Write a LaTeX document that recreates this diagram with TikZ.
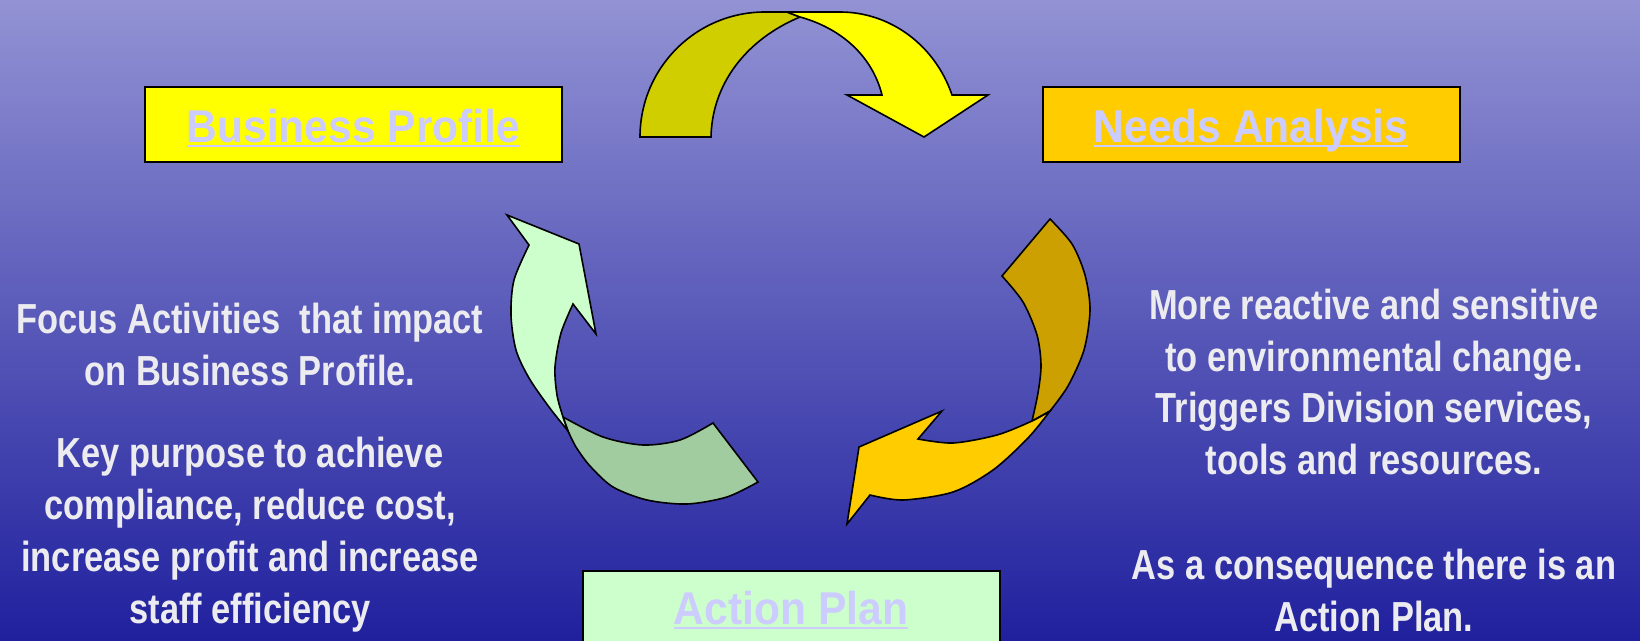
\documentclass[tikz,border=0pt]{standalone}
\usepackage{fontspec}
\setmainfont{Liberation Sans}
\newfontfamily\titlefont[FakeStretch=0.925]{Liberation Sans Bold}
\newfontfamily\bodyfont[FakeStretch=0.82]{Liberation Sans Bold}

\definecolor{bgtop}{RGB}{146,146,212}
\definecolor{bgbot}{RGB}{32,32,158}
\definecolor{bpfill}{RGB}{255,255,0}
\definecolor{nafill}{RGB}{255,204,0}
\definecolor{apfill}{RGB}{204,255,204}
\definecolor{titleink}{RGB}{204,204,255}
\definecolor{bodyink}{RGB}{236,236,240}
\definecolor{topdark}{RGB}{209,206,0}
\definecolor{topbright}{RGB}{255,255,0}
\definecolor{rightdark}{RGB}{204,160,0}
\definecolor{rightbright}{RGB}{255,204,0}
\definecolor{leftdark}{RGB}{160,204,160}
\definecolor{leftlight}{RGB}{204,255,204}

\begin{document}
\begin{tikzpicture}[x=1bp,y=-1bp,
  titlebox/.style={draw=black,line width=2bp,inner sep=0pt,minimum width=417bp},
  titletext/.style={inner sep=0pt,anchor=base,text=titleink,
    font={\titlefont\fontsize{46bp}{52bp}\selectfont}},
  uline/.style={draw=titleink,line width=2.6bp},
  bodytext/.style={inner sep=0pt,anchor=base,align=center,text=bodyink,
    font={\bodyfont\fontsize{42bp}{51.7bp}\selectfont}},
  band/.style={draw=black,line width=1.6bp,line join=miter}]

\useasboundingbox (0,0) rectangle (1640,641);
\clip (0,0) rectangle (1640,641);

% backdrop
\shade[top color=bgtop,bottom color=bgbot] (0,0) rectangle (1640,641);

% stage boxes
\node[titlebox,fill=bpfill,minimum height=75bp] (bp) at (353.5,125) {};
\node[titlebox,fill=nafill,minimum height=75bp] (na) at (1251,125) {};
\node[titlebox,fill=apfill,minimum height=88bp] (ap) at (791,615) {};

\node[titletext] (bpt) at (353.5,143) {Business Profile};
\node[titletext] (nat) at (1251,143) {Needs Analysis};
\node[titletext] (apt) at (791,624) {Action Plan};
\draw[uline] ([yshift=-3bp]bpt.base west) -- ([yshift=-3bp]bpt.base east);
\draw[uline] ([yshift=-3bp]nat.base west) -- ([yshift=-3bp]nat.base east);
\draw[uline] ([yshift=-4bp]apt.base west) -- ([yshift=-4bp]apt.base east);

% top curved arrow: rear band, then front band with head
\filldraw[band,fill=topdark]
  (640,137) arc[start angle=180,end angle=270,radius=125] -- (787,12) -- (800,17)
  .. controls (745,40) and (712,85) .. (711,137)
  -- cycle;
\filldraw[band,fill=topbright]
  (787,12) -- (840,12) .. controls (890,12) and (935,45) .. (952,95)
  -- (988,95) -- (924,137) -- (847,95) -- (882,95)
  .. controls (872,55) and (840,28) .. (800,17)
  -- cycle;

% right curved arrow
\filldraw[band,fill=rightdark]
  (1002,276) -- (1050,219)
  -- plot[smooth] coordinates {(1050,219) (1072,244) (1085,275) (1090,310) (1084,350) (1068,386) (1050,411)}
  -- (1032,421)
  -- plot[smooth] coordinates {(1032,421) (1038,393) (1041,365) (1037,335) (1023,302) (1002,276)}
  -- cycle;
\filldraw[band,fill=rightbright]
  plot[smooth] coordinates {(1050,411) (1032,421) (997,435) (953,443) (918,439)}
  -- (942,411) -- (859,447) -- (847,524) -- (870,495)
  -- plot[smooth] coordinates {(870,495) (903,500) (953,492) (993,470) (1028,438) (1050,411)}
  -- cycle;

% left curved arrow
\filldraw[band,fill=leftdark]
  (563,417) -- (568,431)
  -- plot[smooth] coordinates {(568,431) (576,447) (590,466) (613,487) (647,500) (687,504) (727,497) (758,482)}
  -- (713,423)
  -- plot[smooth] coordinates {(713,423) (680,440) (643,445) (603,437) (563,417)}
  -- cycle;
\filldraw[band,fill=leftlight]
  plot[smooth] coordinates {(568,431) (549,407) (529,378) (516,350) (511,315) (514,280) (529,245)}
  -- (507,215) -- (579,244) -- (596,334) -- (573,304)
  -- plot[smooth] coordinates {(573,304) (561,333) (555,367) (557,395) (563,417) (568,431)}
  -- cycle;

% side notes (anchored on the baseline of their last line)
\node[bodytext] (lefttext) at (250,623)
  {Focus Activities\ \ that impact\\ on Business Profile.\\[31bp]
   Key purpose to achieve\\ compliance, reduce cost,\\
   increase profit and increase\\ staff efficiency};
\node[bodytext] (righttext) at (1374,631)
  {More reactive and sensitive\\ to environmental change.\\
   Triggers Division services,\\ tools and resources.\\[53bp]
   As a consequence there is an\\ Action Plan.};
\end{tikzpicture}
\end{document}
